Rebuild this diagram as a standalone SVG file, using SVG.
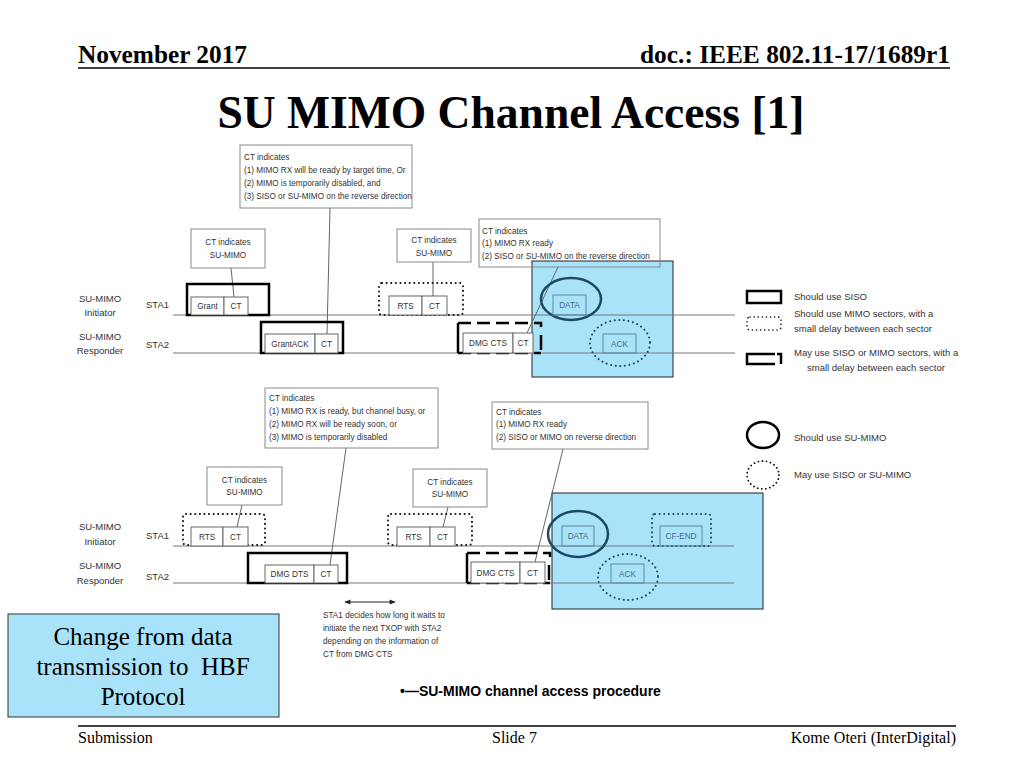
<svg xmlns="http://www.w3.org/2000/svg" width="1024" height="768" viewBox="0 0 1024 768">
<style>
.hdr{font-family:"Liberation Serif",serif;font-weight:bold;fill:#000}
.ft{font-family:"Liberation Serif",serif;font-size:16px;fill:#000}
.t{font-family:"Liberation Sans",Arial,sans-serif;font-size:8.2px;fill:#333}
.lb{font-family:"Liberation Sans",Arial,sans-serif;font-size:9.5px;fill:#333}
.lg{font-family:"Liberation Sans",Arial,sans-serif;font-size:9.5px;fill:#333}
.bt{font-family:"Liberation Sans",Arial,sans-serif;font-size:8.2px;fill:#466a86}
.box{fill:#fff;stroke:#8a8a8a;stroke-width:1}
.obox{fill:none;stroke:#8a8a8a;stroke-width:1}
.cell{fill:#fff;stroke:#666;stroke-width:1}
.thick{fill:none;stroke:#000;stroke-width:2.5}
.dot{fill:none;stroke:#111;stroke-width:2;stroke-dasharray:0.1,4.5;stroke-linecap:round}
.dash{fill:none;stroke:#000;stroke-width:2.5;stroke-dasharray:13,6}
.sol{fill:none;stroke:#000;stroke-width:2.5}
.ln{stroke:#666;stroke-width:1;fill:none}
.sta{stroke:#777;stroke-width:1;fill:none}
.blue{fill:#a8e3fa;stroke:#222;stroke-width:1}
.bcell{fill:none;stroke:#5a8aa8;stroke-width:1}
.ell{fill:none;stroke:#1c4a66;stroke-width:2.5}
.dell{fill:none;stroke:#1c4a66;stroke-width:2;stroke-dasharray:0.1,4.5;stroke-linecap:round}
</style>
<defs>
<marker id="ah" viewBox="0 0 10 10" refX="9" refY="5" markerWidth="7" markerHeight="6" orient="auto-start-reverse"><path d="M0 1 L10 5 L0 9 Z" fill="#222"/></marker>
</defs>
<rect width="1024" height="768" fill="#fff"/>

<g id="header">
<text class="hdr" x="78" y="63" font-size="25" textLength="169" lengthAdjust="spacingAndGlyphs">November 2017</text>
<text class="hdr" x="950" y="63" font-size="25" text-anchor="end" textLength="310" lengthAdjust="spacingAndGlyphs">doc.: IEEE 802.11-17/1689r1</text>
<line x1="78" y1="68" x2="950" y2="68" stroke="#000" stroke-width="1.5"/>
<text class="hdr" x="511" y="128" font-size="46" text-anchor="middle" textLength="587" lengthAdjust="spacingAndGlyphs">SU MIMO Channel Access [1]</text>
</g>

<!-- ===== TOP DIAGRAM ===== -->
<g id="top-blue"><rect class="blue" x="532" y="261" width="141" height="116"/></g>

<g id="top-labels">
<text class="lb" x="100" y="302" text-anchor="middle">SU-MIMO</text>
<text class="lb" x="100" y="316" text-anchor="middle">Initiator</text>
<text class="lb" x="100" y="340" text-anchor="middle">SU-MIMO</text>
<text class="lb" x="100" y="354" text-anchor="middle">Responder</text>
<text class="lb" x="146" y="308">STA1</text>
<text class="lb" x="146" y="348">STA2</text>
</g>

<g id="top-connectors">
<line class="sta" x1="173" y1="315" x2="735" y2="315"/>
<line class="sta" x1="173" y1="353" x2="735" y2="353"/>
<line class="ln" x1="330" y1="208" x2="327" y2="334"/>
<line class="ln" x1="231" y1="268" x2="234" y2="297"/>
<line class="ln" x1="433" y1="262" x2="433" y2="296"/>
<line class="ln" x1="558" y1="267" x2="527" y2="333"/>
</g>

<g id="top-note-big">
<rect class="box" x="240" y="145" width="172" height="63"/>
<text class="t" x="244" y="160">CT indicates</text>
<text class="t" x="244" y="173">(1) MIMO RX will be ready by target time, Or</text>
<text class="t" x="244" y="186">(2) MIMO is temporarily disabled, and</text>
<text class="t" x="244" y="199">(3) SISO or SU-MIMO on the reverse direction</text>
</g>

<g id="top-note-1">
<rect class="box" x="191" y="229" width="74" height="39"/>
<text class="t" x="228" y="245" text-anchor="middle">CT indicates</text>
<text class="t" x="228" y="258" text-anchor="middle">SU-MIMO</text>
</g>

<g id="top-note-2">
<rect class="box" x="397" y="229" width="74" height="33"/>
<text class="t" x="434" y="243" text-anchor="middle">CT indicates</text>
<text class="t" x="434" y="256" text-anchor="middle">SU-MIMO</text>
</g>

<g id="top-note-3">
<rect class="obox" x="479" y="219" width="181" height="48"/>
<text class="t" x="482" y="234">CT indicates</text>
<text class="t" x="482" y="246">(1) MIMO RX ready</text>
<text class="t" x="482" y="259">(2) SISO or SU-MIMO on the reverse direction</text>
</g>

<g id="top-grant">
<rect class="thick" x="187" y="284" width="82" height="31"/>
<rect class="cell" x="191" y="297" width="33" height="18"/>
<rect class="cell" x="224" y="297" width="24" height="18"/>
<text class="t" x="207.5" y="309" text-anchor="middle">Grant</text>
<text class="t" x="236" y="309" text-anchor="middle">CT</text>
</g>

<g id="top-grantack">
<rect class="thick" x="261" y="322" width="82" height="31"/>
<rect class="cell" x="265" y="334" width="50" height="19"/>
<rect class="cell" x="315" y="334" width="23" height="19"/>
<text class="t" x="290" y="347" text-anchor="middle">GrantACK</text>
<text class="t" x="326.5" y="347" text-anchor="middle">CT</text>
</g>

<g id="top-rts">
<rect class="dot" x="379" y="283" width="84" height="32" rx="3"/>
<rect class="cell" x="389" y="296" width="33" height="19"/>
<rect class="cell" x="422" y="296" width="25" height="19"/>
<text class="t" x="405.5" y="309" text-anchor="middle">RTS</text>
<text class="t" x="434.5" y="309" text-anchor="middle">CT</text>
</g>

<g id="top-dmgcts">
<path class="sol" d="M458 323 V353"/>
<path class="dash" d="M458 323 H541 V327"/>
<path class="dash" d="M458 353 H541"/>
<path class="sol" d="M541 335 V350"/>
<rect class="cell" x="463" y="333" width="50" height="20"/>
<rect class="cell" x="513" y="333" width="20" height="20"/>
<text class="t" x="488" y="346" text-anchor="middle">DMG CTS</text>
<text class="t" x="523" y="346" text-anchor="middle">CT</text>
</g>

<g id="top-data">
<ellipse class="ell" cx="571" cy="299" rx="30" ry="21"/>
<rect class="bcell" x="553" y="295" width="33" height="20"/>
<text class="bt" x="569.5" y="308" text-anchor="middle">DATA</text>
</g>

<g id="top-ack">
<ellipse class="dell" cx="620" cy="343" rx="30" ry="23"/>
<rect class="bcell" x="603" y="334" width="33" height="19"/>
<text class="bt" x="619.5" y="347" text-anchor="middle">ACK</text>
</g>

<!-- ===== LEGEND ===== -->
<g id="legend">
<rect class="sol" x="747" y="291" width="34" height="12"/>
<text class="lg" x="794" y="300">Should use SISO</text>
<rect class="dot" x="747" y="317" width="34" height="13" rx="3" style="stroke-width:1.6;stroke-dasharray:0.1,4"/>
<text class="lg" x="794" y="317">Should use MIMO sectors, with a</text>
<text class="lg" x="794" y="332">small delay between each sector</text>
<path class="sol" d="M775 354 H747 V364 H775"/>
<path class="sol" d="M777 354 H781 V364"/>
<text class="lg" x="794" y="356">May use SISO or MIMO sectors, with a</text>
<text class="lg" x="807" y="371">small delay between each sector</text>
<ellipse cx="763" cy="435" rx="16" ry="13" fill="none" stroke="#000" stroke-width="2.5"/>
<text class="lg" x="794" y="441">Should use SU-MIMO</text>
<ellipse cx="763" cy="475" rx="16" ry="14" fill="none" stroke="#111" stroke-width="1.8" stroke-dasharray="0.1,4" stroke-linecap="round"/>
<text class="lg" x="794" y="478">May use SISO or SU-MIMO</text>
</g>

<!-- ===== BOTTOM DIAGRAM ===== -->
<g id="bottom-blue"><rect class="blue" x="552" y="493" width="211" height="116"/></g>

<g id="bottom-labels">
<text class="lb" x="100" y="530" text-anchor="middle">SU-MIMO</text>
<text class="lb" x="100" y="545" text-anchor="middle">Initiator</text>
<text class="lb" x="100" y="569" text-anchor="middle">SU-MIMO</text>
<text class="lb" x="100" y="584" text-anchor="middle">Responder</text>
<text class="lb" x="146" y="539">STA1</text>
<text class="lb" x="146" y="580">STA2</text>
</g>

<g id="bottom-connectors">
<line class="sta" x1="173" y1="546" x2="734" y2="546"/>
<line class="sta" x1="173" y1="583" x2="734" y2="583"/>
<line class="ln" x1="346" y1="448" x2="330" y2="565"/>
<line class="ln" x1="242" y1="505" x2="237" y2="527"/>
<line class="ln" x1="448" y1="507" x2="443" y2="527"/>
<line class="ln" x1="563" y1="449" x2="535" y2="562"/>
<line x1="345" y1="602" x2="395" y2="602" stroke="#222" stroke-width="1" marker-start="url(#ah)" marker-end="url(#ah)"/>
</g>

<g id="bottom-note-big">
<rect class="box" x="265" y="388" width="173" height="60"/>
<text class="t" x="269" y="401">CT indicates</text>
<text class="t" x="269" y="414">(1) MIMO RX is ready, but channel busy, or</text>
<text class="t" x="269" y="427">(2) MIMO RX will be ready soon, or</text>
<text class="t" x="269" y="440">(3) MIMO is temporarily disabled</text>
</g>

<g id="bottom-note-1">
<rect class="box" x="207" y="467" width="75" height="38"/>
<text class="t" x="244.5" y="483" text-anchor="middle">CT indicates</text>
<text class="t" x="244.5" y="495" text-anchor="middle">SU-MIMO</text>
</g>

<g id="bottom-note-2">
<rect class="box" x="413" y="469" width="74" height="38"/>
<text class="t" x="450" y="485" text-anchor="middle">CT indicates</text>
<text class="t" x="450" y="497" text-anchor="middle">SU-MIMO</text>
</g>

<g id="bottom-note-3">
<rect class="box" x="492" y="402" width="156" height="47"/>
<text class="t" x="496" y="415">CT indicates</text>
<text class="t" x="496" y="427">(1) MIMO RX ready</text>
<text class="t" x="496" y="440">(2) SISO or MIMO on reverse direction</text>
</g>

<g id="bottom-rts-1">
<rect class="dot" x="183" y="514" width="82" height="31" rx="3"/>
<rect class="cell" x="191" y="527" width="32" height="19"/>
<rect class="cell" x="223" y="527" width="25" height="19"/>
<text class="t" x="207" y="540" text-anchor="middle">RTS</text>
<text class="t" x="235.5" y="540" text-anchor="middle">CT</text>
</g>

<g id="bottom-dmgdts">
<rect class="thick" x="248" y="553" width="99" height="30"/>
<rect class="cell" x="265" y="565" width="49" height="18"/>
<rect class="cell" x="314" y="565" width="24" height="18"/>
<text class="t" x="289.5" y="577" text-anchor="middle">DMG DTS</text>
<text class="t" x="326" y="577" text-anchor="middle">CT</text>
</g>

<g id="bottom-rts-2">
<rect class="dot" x="388" y="514" width="84" height="31" rx="3"/>
<rect class="cell" x="397" y="527" width="33" height="19"/>
<rect class="cell" x="430" y="527" width="25" height="19"/>
<text class="t" x="413.5" y="540" text-anchor="middle">RTS</text>
<text class="t" x="442.5" y="540" text-anchor="middle">CT</text>
</g>

<g id="bottom-dmgcts">
<path class="sol" d="M467 553 V583"/>
<path class="dash" d="M467 553 H550 V557"/>
<path class="dash" d="M467 583 H550"/>
<path class="sol" d="M549 565 V580"/>
<rect class="cell" x="471" y="562" width="49" height="21"/>
<rect class="cell" x="520" y="562" width="25" height="21"/>
<text class="t" x="495.5" y="576" text-anchor="middle">DMG CTS</text>
<text class="t" x="532.5" y="576" text-anchor="middle">CT</text>
</g>

<g id="bottom-data">
<ellipse class="ell" cx="578" cy="534" rx="30" ry="23"/>
<rect class="bcell" x="562" y="526" width="32" height="20"/>
<text class="bt" x="578" y="539" text-anchor="middle">DATA</text>
</g>

<g id="bottom-cfend">
<rect class="dell" x="652" y="514" width="59" height="32" rx="3"/>
<rect class="bcell" x="660" y="526" width="42" height="20"/>
<text class="bt" x="681" y="539" text-anchor="middle">CF-END</text>
</g>

<g id="bottom-ack">
<ellipse class="dell" cx="628" cy="577" rx="30" ry="23"/>
<rect class="bcell" x="611" y="564" width="33" height="19"/>
<text class="bt" x="627.5" y="577" text-anchor="middle">ACK</text>
</g>

<g id="bottom-note-wait">
<text class="t" x="323" y="618">STA1 decides how long it waits to</text>
<text class="t" x="323" y="631">initiate the next TXOP with STA2</text>
<text class="t" x="323" y="644">depending on the information of</text>
<text class="t" x="323" y="657">CT from DMG CTS</text>
</g>

<g id="caption">
<text x="400" y="696" font-family="Liberation Sans, Arial, sans-serif" font-size="14" font-weight="bold" fill="#000">•—SU-MIMO channel access procedure</text>
</g>

<g id="hbf-box">
<rect x="8" y="614" width="271" height="103" fill="#a8e3fa" stroke="#333" stroke-width="1"/>
<text x="143" y="645" font-family="Liberation Serif, serif" font-size="25" text-anchor="middle" fill="#000">Change from data</text>
<text x="143" y="675" font-family="Liberation Serif, serif" font-size="25" text-anchor="middle" fill="#000" xml:space="preserve">transmission to  HBF</text>
<text x="143" y="705" font-family="Liberation Serif, serif" font-size="25" text-anchor="middle" fill="#000">Protocol</text>
</g>

<g id="footer">
<line x1="78" y1="726" x2="956" y2="726" stroke="#000" stroke-width="1.3"/>
<text class="ft" x="78" y="743">Submission</text>
<text class="ft" x="492" y="743">Slide 7</text>
<text class="ft" x="956" y="743" text-anchor="end">Kome Oteri (InterDigital)</text>
</g>
</svg>
